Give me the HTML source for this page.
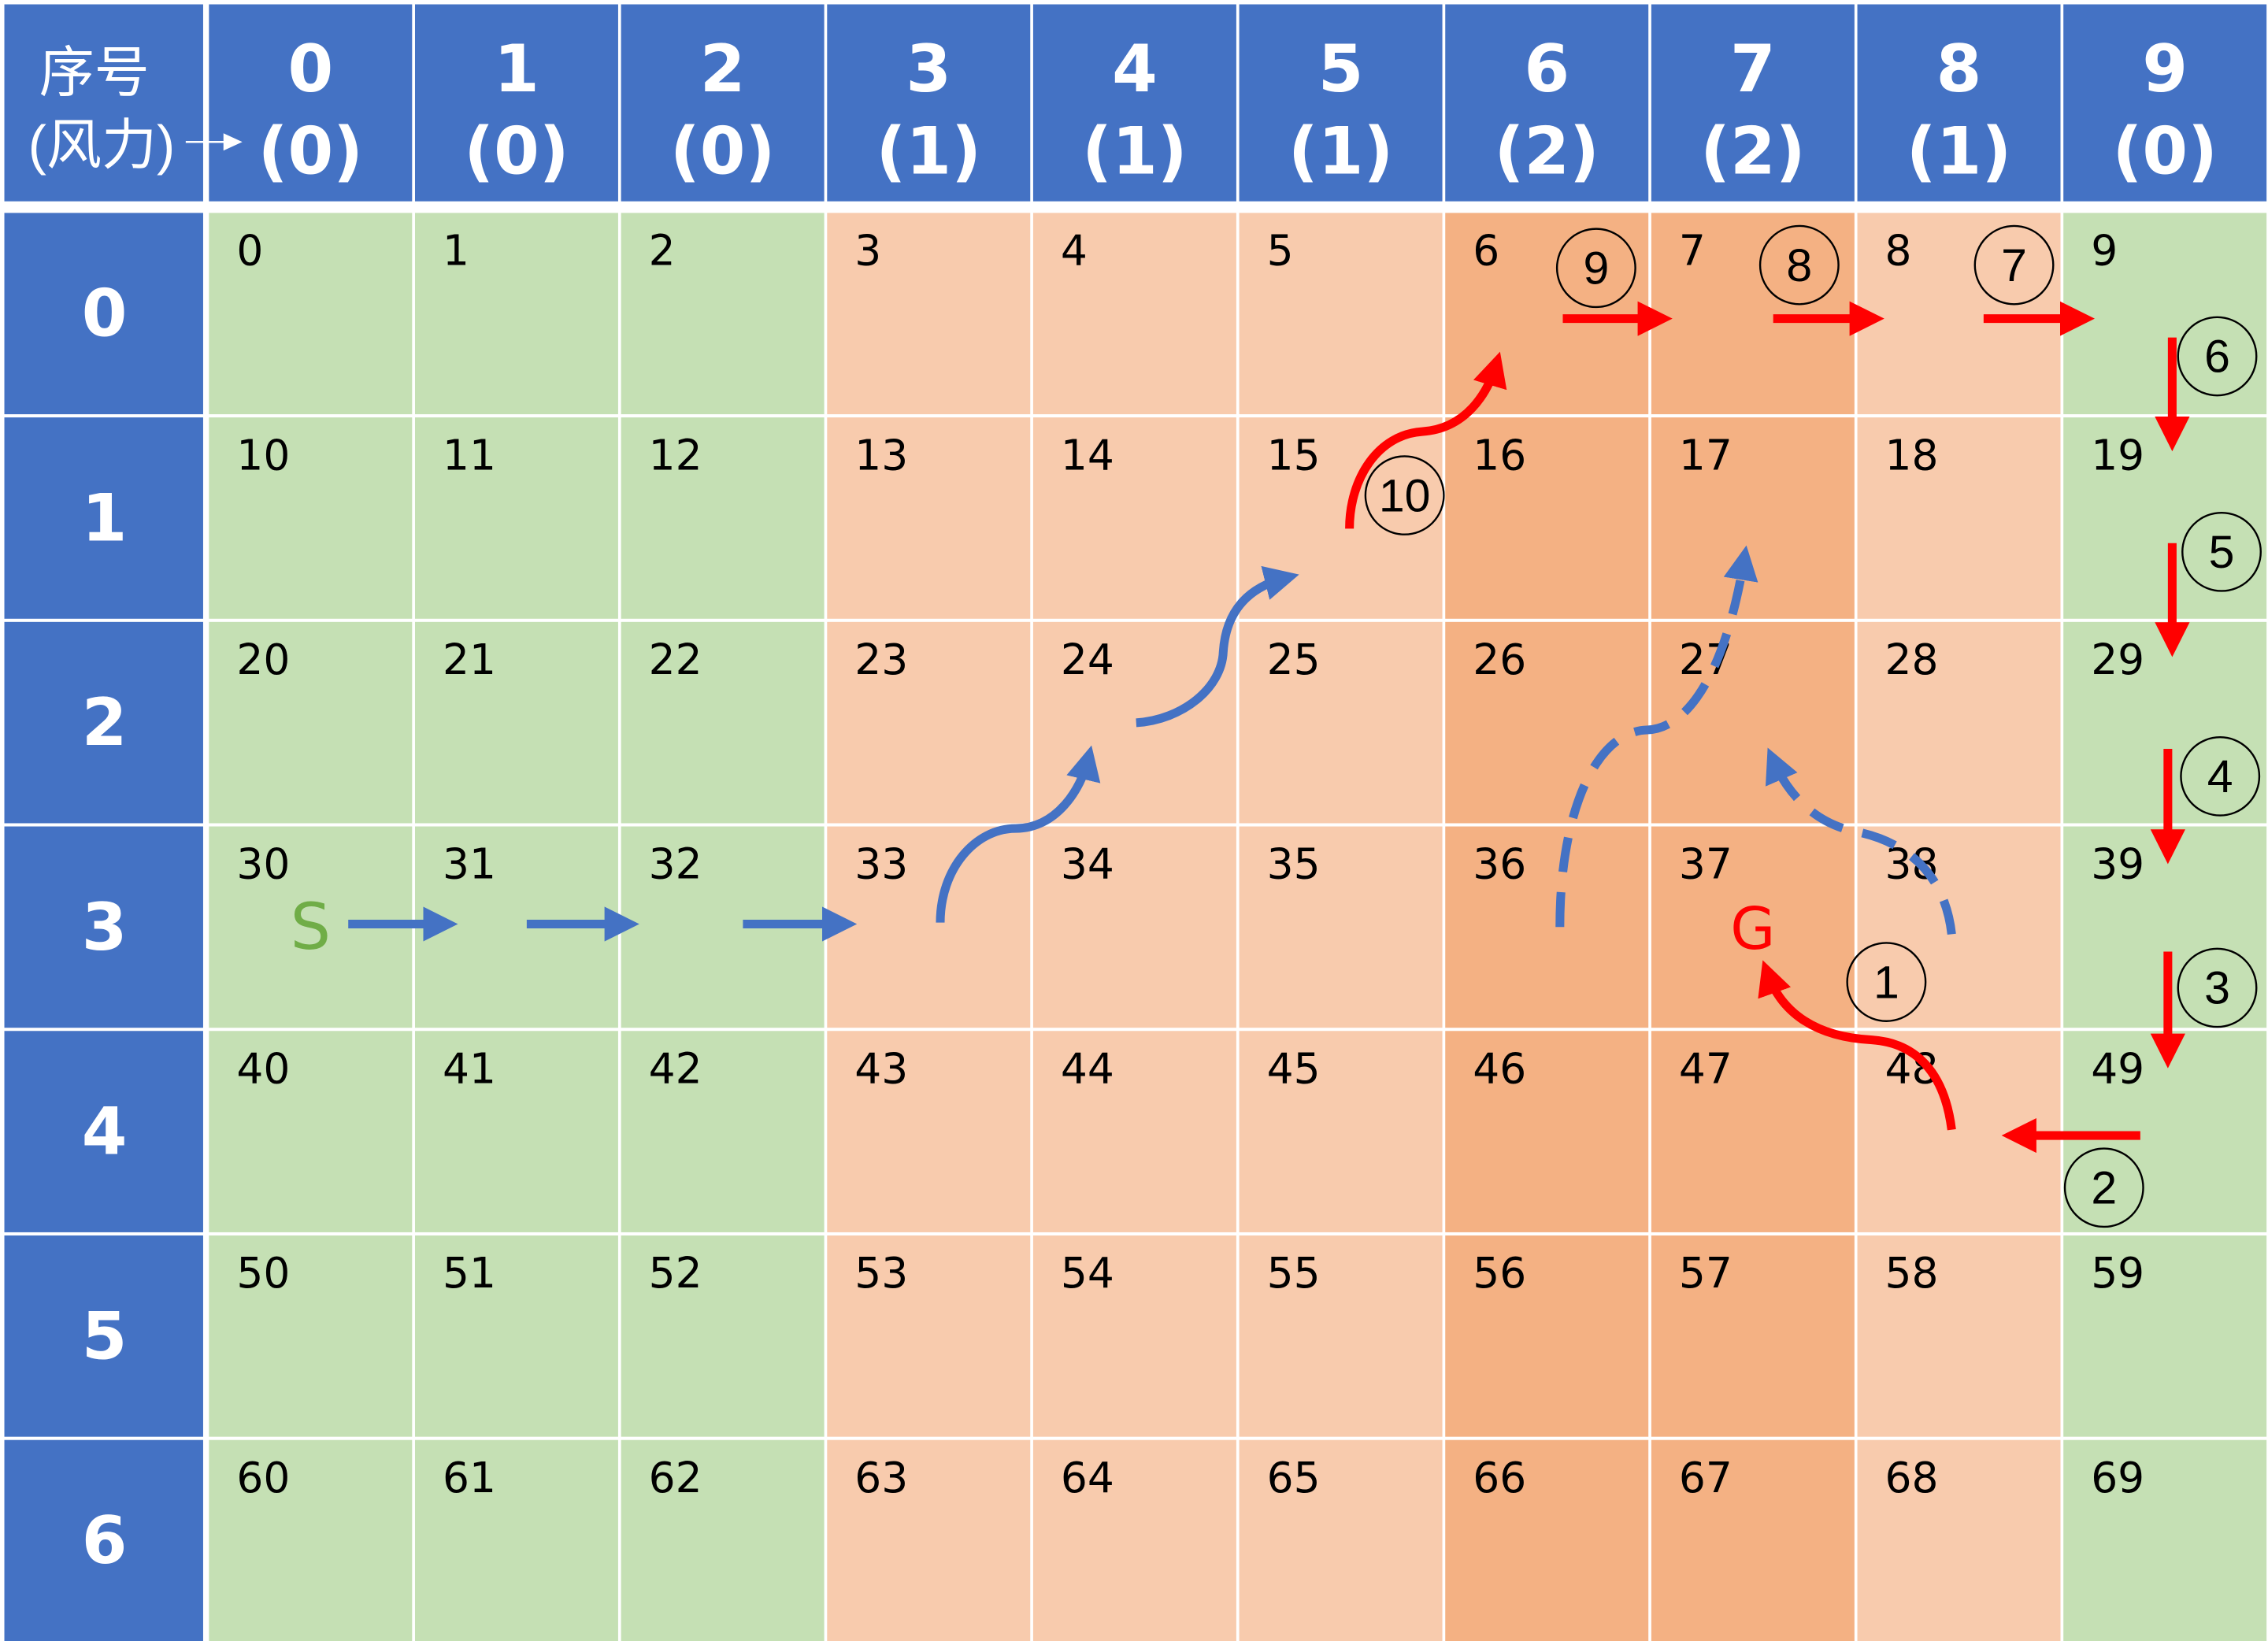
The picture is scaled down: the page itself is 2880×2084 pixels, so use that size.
<!DOCTYPE html>
<html><head><meta charset="utf-8"><style>
html,body{margin:0;padding:0;background:#fff;}
svg{display:block;}
text{font-family:"DejaVu Sans","Liberation Sans","Noto Sans CJK SC",sans-serif;}
text.thin{font-family:"Liberation Sans",sans-serif;}
text.cjk{font-family:"Liberation Sans","Noto Sans CJK SC",sans-serif;}
</style></head><body>
<svg id="chart" width="2880" height="2084" viewBox="0 0 1563 1133" preserveAspectRatio="none" xmlns="http://www.w3.org/2000/svg">
<defs>
<marker id="ab" viewBox="0 0 10 10" refX="6" refY="5" markerWidth="4" markerHeight="4" orient="auto" markerUnits="strokeWidth"><path d="M0,0 L10,5 L0,10 z" fill="#4472C4"/></marker>
<marker id="ar" viewBox="0 0 10 10" refX="6" refY="5" markerWidth="4" markerHeight="4" orient="auto" markerUnits="strokeWidth"><path d="M0,0 L10,5 L0,10 z" fill="#FF0000"/></marker>
</defs>
<g id="grid"></g>
<g id="overlay">
<path d="M128,98 L156,98" stroke="#fff" stroke-width="1.3"/>
<path d="M154,92 L167,98 L154,104 z" fill="#fff"/>
<text x="214" y="655" font-size="44" fill="#70AD47" text-anchor="middle">S</text>
<text x="1208" y="655" font-size="40" fill="#FF0000" text-anchor="middle">G</text>
<g fill="none" stroke="#4472C4" stroke-width="6">
<path d="M240,638 L306,638" marker-end="url(#ab)"/>
<path d="M363,638 L431,638" marker-end="url(#ab)"/>
<path d="M512,638 L581,638" marker-end="url(#ab)"/>
<path d="M648,637 C648,600 672,572 700,572 C728,572 745,545 750,524" marker-end="url(#ab)"/>
<path d="M783,499 C815,497 842,475 843,450 C845,420 862,405 886,399" marker-end="url(#ab)"/>
<path d="M1075,640 C1075,560 1100,505 1135,504 C1165,503 1190,460 1202,386" stroke-dasharray="24,14" marker-end="url(#ab)"/>
<path d="M1345,645 C1340,600 1310,580 1278,574 C1250,568 1232,548 1222,525" stroke-dasharray="24,14" marker-end="url(#ab)"/>
</g>
<g fill="none" stroke="#FF0000" stroke-width="6">
<path d="M930,365 C930,330 950,300 980,298 C1010,296 1025,272 1031,252" marker-end="url(#ar)"/>
<path d="M1077,220 L1143,220" marker-end="url(#ar)"/>
<path d="M1222,220 L1289,220" marker-end="url(#ar)"/>
<path d="M1367,220 L1434,220" marker-end="url(#ar)"/>
<path d="M1497,233 L1497,302" marker-end="url(#ar)"/>
<path d="M1497,375 L1497,444" marker-end="url(#ar)"/>
<path d="M1494,517 L1494,587" marker-end="url(#ar)"/>
<path d="M1494,657 L1494,728" marker-end="url(#ar)"/>
<path d="M1475,784 L1389,784" marker-end="url(#ar)"/>
<path d="M1345,780 C1340,740 1320,720 1290,718 C1252,716 1228,700 1218,672" marker-end="url(#ar)"/>
</g>
<g id="steps"></g>
</g>
<script>
const cols = [0,1,2,3,4,5,6,7,8,9];
const wind = [0,0,0,1,1,1,2,2,1,0];
const rows = [0,1,2,3,4,5,6];
const stepLabels = ['1','2','3','4','5','6','7','8','9','10'];
const stepCells = [[1300,678],[1450,820],[1528,682],[1530,536],[1531,381],[1528,246],[1388,183],[1240,183],[1100,185],[968,342]];
const NS='http://www.w3.org/2000/svg';
const g=document.getElementById('grid');
function mk(t,a,p){const e=document.createElementNS(NS,t);for(const k in a)e.setAttribute(k,a[k]);(p||g).appendChild(e);return e;}
const X=i=>144+142*i, Y=j=>147+141.2*j, CW=140, RH=139;
const colorFor=w=>w===0?'#C5E0B4':(w===1?'#F8CBAD':'#F4B183');
let e=mk('rect',{x:3,y:3,width:137,height:136,fill:'#4472C4'});


e=mk('text',{x:65,y:63,'font-size':38,fill:'#fff','text-anchor':'middle','class':'cjk'});e.textContent='序号';


e=mk('text',{x:70,y:113,'font-size':38,fill:'#fff','text-anchor':'middle','class':'cjk'});e.textContent='(风力)';


cols.forEach((c,i)=>{
  let r=mk('rect',{x:X(i),y:3,width:CW,height:136,fill:'#4472C4'});
  
  
  let t=mk('text',{x:X(i)+CW/2,y:63,'font-size':45,'font-weight':'bold',fill:'#fff','text-anchor':'middle'});t.textContent=c;
  
  
  t=mk('text',{x:X(i)+CW/2,y:120,'font-size':45,'font-weight':'bold',fill:'#fff','text-anchor':'middle'});t.textContent='('+wind[i]+')';
  
  
});
rows.forEach((rw,j)=>{
  let r=mk('rect',{x:3,y:Y(j),width:137,height:RH,fill:'#4472C4'});
  
  
  let t=mk('text',{x:72,y:Y(j)+85,'font-size':45,'font-weight':'bold',fill:'#fff','text-anchor':'middle'});t.textContent=rw;
  
  
  cols.forEach((c,i)=>{
    let cell=mk('rect',{x:X(i),y:Y(j),width:CW,height:RH,fill:colorFor(wind[i])});
    
    
    let n=mk('text',{x:X(i)+19,y:Y(j)+36,'font-size':29,fill:'#000'});n.textContent=rw*10+c;
    
    
  });
});
const s=document.getElementById('steps');
stepCells.forEach((p,k)=>{
  let c=mk('circle',{cx:p[0],cy:p[1],r:27,fill:'none',stroke:'#000','stroke-width':1.3},s);
  
  
  let t=mk('text',{x:p[0],y:p[1]+11,'font-size':32,fill:'#000','text-anchor':'middle','class':'thin'},s);t.textContent=stepLabels[k];
  
  
});
</script>
</svg>
</body></html>
